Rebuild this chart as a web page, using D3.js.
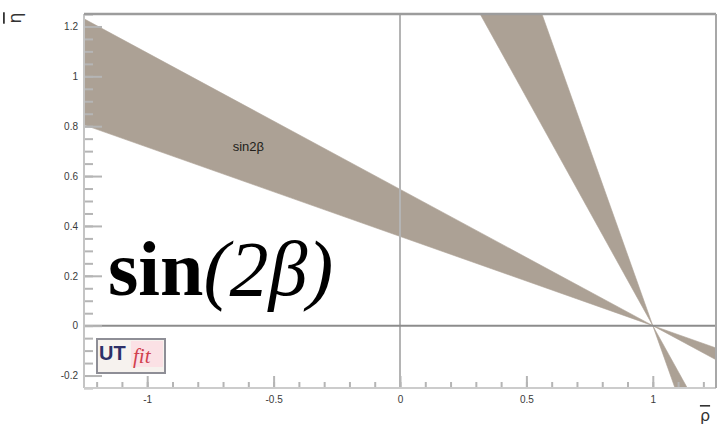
<!DOCTYPE html>
<html>
<head>
<meta charset="utf-8">
<script src="https://cdn.jsdelivr.net/npm/d3@7"></script>
<style>
  html, body { margin: 0; padding: 0; background: #fff; }
  svg { display: block; }
  .tick text { font-family: "Liberation Sans", Arial, sans-serif; font-size: 10px; fill: #3a3a3a; }
</style>
</head>
<body>
<svg id="chart" width="717" height="428"></svg>
<script>
// Constraint from sin(2β) in the (ρ̄, η̄) plane: each band is bounded by two
// lines through the apex (ρ̄, η̄) = (1, 0), η̄ = k·(1 − ρ̄).
const apexPoint = [1, 0];
const bandNames = ["sin2β", "sin2β (β → π/2 − β)"];
const slopeLow  = [0.358, 1.83];
const slopeHigh = [0.547, 2.85];

const xDomain = [-1.25, 1.25];
const yDomain = [-0.25, 1.25];
const xMajor = [-1, -0.5, 0, 0.5, 1];
const xMajorLabels = ["-1", "-0.5", "0", "0.5", "1"];
const yMajor = [-0.2, 0, 0.2, 0.4, 0.6, 0.8, 1, 1.2];
const yMajorLabels = ["-0.2", "0", "0.2", "0.4", "0.6", "0.8", "1", "1.2"];
const xMinor = d3.range(-12, 13).map(i => i / 10);
const yMinor = d3.range(-5, 26).map(i => i / 20);

const svg = d3.select("#chart");
const frameLeft = 84, frameRight = 716, frameTop = 14, frameBottom = 388;

const x = d3.scaleLinear().domain(xDomain).range([frameLeft, frameRight]);
const y = d3.scaleLinear().domain(yDomain).range([frameBottom, frameTop]);

svg.append("defs").append("clipPath").attr("id", "plotArea")
  .append("rect")
  .attr("x", frameLeft).attr("y", frameTop)
  .attr("width", frameRight - frameLeft).attr("height", frameBottom - frameTop);

// Bands: one wedge on each side of the apex
const bandColor = "#aca195";
const plot = svg.append("g").attr("clip-path", "url(#plotArea)");
const far = 4;
const line = d3.line().x(d => x(d[0])).y(d => y(d[1]));
bandNames.forEach((name, i) => {
  const [r0, e0] = apexPoint;
  [-far, far].forEach(dr => {
    const pts = [
      [r0, e0],
      [r0 + dr, e0 - slopeLow[i] * dr],
      [r0 + dr, e0 - slopeHigh[i] * dr]
    ];
    plot.append("path")
      .attr("d", line(pts) + "Z")
      .attr("fill", bandColor)
      .attr("stroke", bandColor)
      .attr("stroke-width", 0.6);
  });
});

// Reference lines at ρ̄ = 0 and η̄ = 0
plot.append("line")
  .attr("x1", x(0)).attr("x2", x(0)).attr("y1", frameTop).attr("y2", frameBottom)
  .attr("stroke", "#b4b4b4").attr("stroke-width", 2);
plot.append("line")
  .attr("x1", frameLeft).attr("x2", frameRight).attr("y1", y(0)).attr("y2", y(0))
  .attr("stroke", "#8c8c8c").attr("stroke-width", 2);

// Axes with ticks drawn inward
const tickColor = "#b5b5b5";
function styleAxis(g) {
  g.select(".domain").remove();
  g.selectAll(".tick line").attr("stroke", tickColor).attr("stroke-width", 2);
}
svg.append("g").attr("transform", `translate(${frameLeft},0)`)
  .call(d3.axisLeft(y).tickValues(yMinor).tickSize(-9).tickFormat(""))
  .call(styleAxis);
svg.append("g").attr("transform", `translate(${frameLeft},0)`)
  .call(d3.axisLeft(y).tickValues(yMajor).tickSize(-18).tickPadding(6)
    .tickFormat((d, i) => yMajorLabels[i]))
  .call(styleAxis);
svg.append("g").attr("transform", `translate(0,${frameBottom})`)
  .call(d3.axisBottom(x).tickValues(xMinor).tickSize(-6).tickFormat(""))
  .call(styleAxis);
svg.append("g").attr("transform", `translate(0,${frameBottom})`)
  .call(d3.axisBottom(x).tickValues(xMajor).tickSize(-12).tickPadding(8)
    .tickFormat((d, i) => xMajorLabels[i]))
  .call(styleAxis);

// Frame
svg.append("line").attr("x1", frameLeft).attr("x2", frameLeft).attr("y1", frameTop).attr("y2", frameBottom)
  .attr("stroke", "#c4c4c4").attr("stroke-width", 2);
svg.append("line").attr("x1", frameLeft).attr("x2", frameRight).attr("y1", frameBottom).attr("y2", frameBottom)
  .attr("stroke", "#cccccc").attr("stroke-width", 2);
svg.append("line").attr("x1", frameLeft).attr("x2", frameRight).attr("y1", frameTop).attr("y2", frameTop)
  .attr("stroke", "#9c9c9c").attr("stroke-width", 2.5);
svg.append("line").attr("x1", frameRight).attr("x2", frameRight).attr("y1", frameTop).attr("y2", frameBottom)
  .attr("stroke", "#a8a8a8").attr("stroke-width", 2);

// Axis titles
svg.append("text")
  .attr("transform", "translate(21,18) rotate(-90)")
  .attr("text-anchor", "middle")
  .attr("font-family", "DejaVu Sans, sans-serif").attr("font-size", 18).attr("fill", "#333")
  .attr("text-decoration", "overline")
  .text("η");
svg.append("text")
  .attr("x", 705).attr("y", 421)
  .attr("text-anchor", "middle")
  .attr("font-family", "DejaVu Sans, sans-serif").attr("font-size", 16).attr("fill", "#333")
  .attr("text-decoration", "overline")
  .text("ρ");

// Band label
svg.append("text")
  .attr("x", x(-0.6)).attr("y", y(0.7))
  .attr("text-anchor", "middle")
  .attr("font-family", "Liberation Sans, Arial, sans-serif").attr("font-size", 13)
  .attr("fill", "#221e1a")
  .text("sin2β");

// Large title
const title = svg.append("text")
  .attr("x", 108).attr("y", 295)
  .attr("font-family", "Liberation Serif, Times New Roman, serif")
  .attr("font-size", 78).attr("fill", "#000");
title.append("tspan").attr("font-weight", "bold").text("sin");
title.append("tspan").attr("font-style", "italic").text("(2β)");

// UTfit logo
const logo = svg.append("g");
logo.append("rect").attr("x", 97).attr("y", 339).attr("width", 68).attr("height", 34)
  .attr("fill", "#f6f2ee").attr("stroke", "#8e8e96").attr("stroke-width", 2);
logo.append("rect").attr("x", 131).attr("y", 341).attr("width", 32).attr("height", 26)
  .attr("fill", "#fbe1e5");
logo.append("text").attr("x", 99).attr("y", 360)
  .attr("font-family", "Liberation Sans, Arial, sans-serif").attr("font-weight", "bold")
  .attr("font-size", 20).attr("fill", "#2d3068").text("UT");
logo.append("text").attr("x", 133).attr("y", 363)
  .attr("font-family", "Liberation Serif, Times New Roman, serif").attr("font-style", "italic")
  .attr("font-size", 21).attr("fill", "#d0404e").text("fit");
</script>
</body>
</html>
